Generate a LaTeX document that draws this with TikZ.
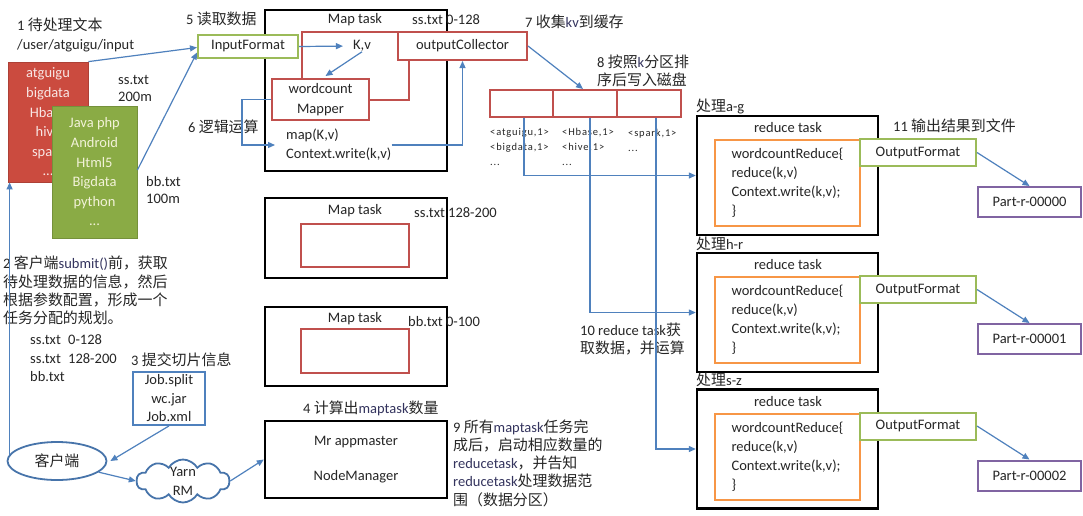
\documentclass[tikz,border=0pt]{standalone}
\usepackage{fontspec}
\setmainfont{Carlito}
\newfontfamily\cjkfont[Scale=1.03]{Noto Sans CJK SC}
\newfontfamily\smallfont[LetterSpace=8]{Carlito}
\usetikzlibrary{arrows.meta,shapes.geometric,shapes.symbols,calc}
\definecolor{blueline}{HTML}{4F81BD}
\definecolor{redline}{HTML}{C0504D}
\definecolor{greenline}{HTML}{9BBB59}
\definecolor{orangeline}{HTML}{F79646}
\definecolor{purpleline}{HTML}{8064A2}
\definecolor{redfill}{HTML}{CB4B3F}
\definecolor{greenfill}{HTML}{8AAB45}
\definecolor{latinblue}{HTML}{34345E}
\definecolor{pinktext}{HTML}{F8E6E4}
\definecolor{creamtext}{HTML}{F2F2D8}
\newcommand{\zh}[1]{{\cjkfont #1}}
\newcommand{\lt}[1]{{\color{latinblue}#1}}
\begin{document}
\begin{tikzpicture}[x=1pt,y=-1pt,
  every node/.style={font=\fontsize{14.5}{19}\selectfont, inner sep=0pt, text=black!85},
  box/.style 2 args={rectangle, minimum width=#1, minimum height=#2},
  blk/.style={draw=black, line width=2.4pt},
  redbox/.style={draw=redline, line width=2pt},
  grnbox/.style={draw=greenline, line width=2pt, fill=white},
  orgbox/.style={draw=orangeline, line width=2pt},
  purbox/.style={draw=purpleline, line width=2pt, fill=white},
  lbl/.style={anchor=west, align=left},
  conn/.style={draw=blueline, line width=1.2pt, -{Triangle[length=7pt,width=6pt]}}
]
\useasboundingbox[fill=white] (0,0) rectangle (1083,515);

% ---------- input files ----------
\node[lbl] (t1) at (17,25) {1 \zh{待处理文本}};
\node[lbl] (t1b) at (17,46) {/user/atguigu/input};
\node[box={80}{120}, fill=redfill, draw=redfill!85!black, line width=0.8pt, align=center,
      text=pinktext, font=\fontsize{14.5}{19.6}\selectfont] (f1) at (48,122)
      {atguigu\\bigdata\\Hbase\\hive\\spark\\...};
\node[box={85}{132}, fill=greenfill, draw=greenfill!85!black, line width=0.8pt, align=center,
      text=creamtext, font=\fontsize{14.5}{19.6}\selectfont] (f2) at (94.5,172)
      {Java php\\Android\\Html5\\Bigdata\\python\\...};
\node[lbl, font=\fontsize{14.5}{17.5}\selectfont] (s1) at (118,88.5) {ss.txt\\200m};
\node[lbl, font=\fontsize{14.5}{17.5}\selectfont] (s2) at (146,190) {bb.txt\\100m};

% ---------- map task 1 ----------
\node[lbl] (t5) at (186,19) {5 \zh{读取数据}};
\node[box={182}{161}, blk] (m1) at (356,90.5) {};
\node (m1t) at (355,20) {Map task};
\node[lbl] (m1s) at (412,20) {ss.txt 0-128};
\node[box={107}{68}, redbox] (kvbox) at (355.5,66) {};
\node[box={97}{41}, redbox, fill=white, align=center, font=\fontsize{14.5}{20}\selectfont] (mapper) at (320.5,99.5) {wordcount\\Mapper};
\node[box={129}{28}, redbox, fill=white] (oc) at (462.5,46) {outputCollector};
\node[box={100}{23}, grnbox] (if) at (248,46.5) {InputFormat};
\node (kv) at (362,46) {K,v};
\node[lbl] (mt) at (286,145) {map(K,v)\\Context.write(k,v)};
\node[lbl] (t6) at (188,127) {6 \zh{逻辑运算}};

% ---------- partitions ----------
\node[lbl] (t7) at (525,22) {7 \zh{收集}\lt{kv}\zh{到缓存}};
\node[lbl, font=\fontsize{14.5}{18}\selectfont] (t8) at (597,71) {8 \zh{按照}\lt{k}\zh{分区排}\\\zh{序后写入磁盘}};
\node[box={63.5}{27}, redbox] (p1) at (521.5,103.5) {};
\node[box={64}{27}, redbox] (p2) at (585,103.5) {};
\node[box={64}{27}, redbox] (p3) at (649,103.5) {};
\node[lbl, font=\fontsize{10.5}{15}\smallfont] (pa) at (490,147) {<atguigu,1>\\<bigdata,1>\\...};
\node[lbl, font=\fontsize{10.5}{15}\smallfont] (pb) at (562,147) {<Hbase,1>\\<hive,1>\\...};
\node[lbl, font=\fontsize{10.5}{15}\smallfont] (pc) at (628,140) {<spark,1>\\...};

% ---------- map tasks 2, 3 ----------
\node[box={182}{80}, blk] (m2) at (356,238) {};
\node (m2t) at (355,211) {Map task};
\node[lbl] (m2s) at (414,213) {ss.txt 128-200};
\node[box={108}{43}, redbox] (m2r) at (355,245.5) {};
\node[box={182}{79}, blk] (m3) at (356,346.5) {};
\node (m3t) at (355,319) {Map task};
\node[lbl] (m3s) at (408,322) {bb.txt 0-100};
\node[box={108}{44}, redbox] (m3r) at (355,351) {};

% ---------- app master ----------
\node[lbl] (t4) at (303,408) {4 \zh{计算出}\lt{maptask}\zh{数量}};
\node[box={182}{77}, blk] (am) at (356,459.5) {};
\node (mr) at (356,442) {Mr appmaster};
\node (nm) at (356,477) {NodeManager};
\node[lbl, font=\fontsize{14.5}{18.2}\selectfont] (t9) at (453,463)
  {9 \zh{所有}\lt{maptask}\zh{任务完}\\\zh{成后，启动相应数量的}\\\lt{reducetask}\zh{，并告知}\\\lt{reducetask}\zh{处理数据范}\\\zh{围（数据分区）}};

% ---------- reduce tasks ----------
\node[lbl] (t11) at (893,126) {11 \zh{输出结果到文件}};
\node[lbl, font=\fontsize{14.5}{18}\selectfont] (t10) at (580,339) {10 reduce task\zh{获}\\\zh{取数据，并运算}};
\foreach \i/\y/\lab/\part in {1/175.5/a-g/0, 2/312.5/h-r/1, 3/449/s-z/2}{
  \node[lbl] (h\i) at (696,\y-69) {\zh{处理}\lab};
  \node[box={181}{119}, blk] (r\i) at (787.5,\y) {};
  \node (rt\i) at (788,\y-47.5) {reduce task};
  \node[box={145}{86}, orgbox, align=left] (o\i) at (787.5,\y+7.5)
     {wordcountReduce\{\\reduce(k,v)\\Context.write(k,v);\\\}};
  \node[box={116}{27}, grnbox] (of\i) at (918,\y-23) {OutputFormat};
  \node[box={103}{30}, purbox] (pt\i) at (1029.5,\y+26.5) {Part-r-0000\part};
  \draw[conn] (of\i.east) -- (pt\i.north);
}

% ---------- client side ----------
\node[lbl, font=\fontsize{14.5}{18.3}\selectfont] (t2) at (3,290.5)
  {2 \zh{客户端}\lt{submit()}\zh{前，获取}\\\zh{待处理数据的信息，然后}\\\zh{根据参数配置，形成一个}\\\zh{任务分配的规划。}};
\node[lbl, font=\fontsize{14.5}{18.5}\selectfont] (sl) at (30,358.5) {ss.txt\enspace 0-128\\ss.txt\enspace 128-200\\bb.txt};
\node[lbl] (t3) at (131,360) {3 \zh{提交切片信息}};
\node[box={72}{53}, draw=blueline, line width=1.8pt, align=center, font=\fontsize{14.5}{18.5}\selectfont] (job) at (169,398.5) {Job.split\\wc.jar\\Job.xml};
\node[ellipse, draw=blueline!90!black, line width=1.8pt, minimum width=99pt, minimum height=38pt] (ell) at (57,461) {\zh{客户端}};
\node[cloud, cloud puffs=10, cloud puff arc=120, cloud ignores aspect, draw=blueline!90!black, line width=1.8pt, minimum width=93pt, minimum height=43pt] (yarn) at (183,481) {};
\node[align=center, font=\fontsize{14.5}{19}\selectfont] (yarnt) at (yarn) {Yarn\\RM};

% ---------- connectors ----------
\draw[conn] (f1.north east) -- ([yshift=-1pt]if.west);
\draw[conn] ([yshift=2pt]f2.east) -- ([yshift=-6pt]if.west);
\draw[conn, shorten >=10pt] (if.east) -- (kv.west);
\draw[conn] (kv.south) -- ([xshift=5pt,yshift=2pt]mapper.north);
\draw[conn, shorten >=11pt] (mapper.west) -- ++(-29,0) |- (mt.west);
\draw[conn] (mt.east) -- (oc.south |- mt.east) -- (oc.south);
\draw[conn] (oc.east) -- ([xshift=-2pt]p2.north);
\draw[conn] ([xshift=2.5pt]p1.south) |- (r1.west);
\draw[conn] ([xshift=5pt]p2.south) |- (r2.west);
\draw[conn] ([xshift=7pt]p3.south) |- (r3.west);
\draw[conn] ([xshift=3pt,yshift=6pt]ell.west) -- ([xshift=3pt]ell.west |- f1.south);
\draw[conn] (job.south) -- ([xshift=3pt]ell.east);
\draw[conn] (ell.-15) -- (yarn.west);
\draw[conn] (yarn.east) -- (am.west);
\end{tikzpicture}
\end{document}
